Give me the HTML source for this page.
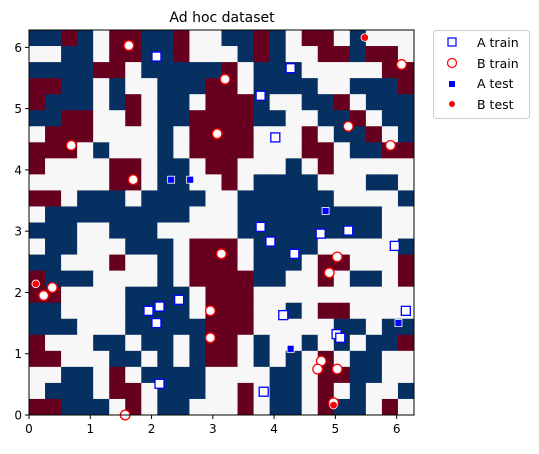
<!DOCTYPE html>
<html><head><meta charset="utf-8"><style>
body{margin:0;background:#fff;font-family:"Liberation Sans","DejaVu Sans",sans-serif;}
svg text{font-family:"DejaVu Sans","Liberation Sans",sans-serif;}
</style></head><body>
<svg id="chart" width="539" height="449" viewBox="0 0 539 449" xmlns="http://www.w3.org/2000/svg">
<text x="222" y="22" font-size="14" text-anchor="middle">Ad hoc dataset</text>
<g id="heat"></g>
<g id="pts"></g>
<rect x="29" y="30" width="385" height="385" fill="none" stroke="#000" stroke-width="1"/>
<g id="axes"></g>
<g>
<rect x="433.5" y="30.5" width="96" height="88" rx="3" fill="#fff" stroke="#ccc"/>
<g><rect x="448" y="38" width="8" height="8" fill="#fff" stroke="#0000ff" stroke-width="1.2"/><text x="477" y="47" font-size="12.5">A train</text></g>
<g><circle cx="452" cy="63" r="4.5" fill="#fff" stroke="#ff0000" stroke-width="1.2"/><text x="477" y="68" font-size="12.5">B train</text></g>
<g><rect x="449" y="81" width="6" height="6" fill="#0000ff"/><text x="477" y="88" font-size="12.5">A test</text></g>
<g><circle cx="452" cy="104" r="3" fill="#ff0000"/><text x="477" y="109" font-size="12.5">B test</text></g>
</g>
</svg>
<script>
const gridRows = [
"BBRB.RRBBR..BBRB.RR.B...",
"..BB.RRBBR...BRB..RRBRR.",
"BBBBRR.BBBBBR.BBB.....RR",
"RRBB.B..BBBRR.BBBB..BBBR",
"RBBB.BR.BB.RRRB..BBR.BBB",
"BBRR..R.BBRRRRBB..BBR.BB",
".RRR....B.RRRR...R.BBR.B",
"RRR.B...B.RRRR...RR.BBRR",
"R....RR.BB.RR...B.R.....",
".....RR.BB..R.BBBB...BB.",
"RR.BBB.BBBB..BBBBBB....B",
".BBBBBBBBB...BBBBBBBBB..",
"BBB..BBB.....BBBBBBBBB..",
".BB...BBB.RRR.BBBB.....B",
"BB...R..B.RRR.BBB.RR...R",
"RBBB....B.RRRRBB..R.BB.R",
"RR....BBBB.RRR..........",
"BB....BBBB.RRR..B.RR....",
"BBB...BBBBBRRR.....BB.BB",
"R...BB.BB.BRR.B..B.B.BBR",
"RR...BB.B.BRR.B.B.R.BB..",
"..BB.R.BBBB....BB.RRBB..",
".BBB.RR.BBB..R.BB.R.B..B",
"RRBBB.R.BB...R.BB.RBB.R."
];
const aTrainX=[2.08,4.27,3.78,4.02,3.78,3.94,4.33,4.76,5.21,5.97,6.15,4.15,5.02,5.08,1.95,2.13,2.45,2.08,2.13,3.83];
const aTrainY=[5.85,5.66,5.21,4.53,3.07,2.83,2.63,2.96,3.01,2.76,1.70,1.63,1.32,1.26,1.70,1.77,1.88,1.50,0.51,0.38];
const aTestX=[2.32,2.63,4.84,4.27,6.03];
const aTestY=[3.84,3.84,3.33,1.08,1.50];
const bTrainX=[1.63,6.08,3.20,3.07,5.21,5.90,0.69,1.70,3.14,5.03,4.90,0.38,0.24,2.96,2.96,4.77,4.71,5.03,4.97,1.57];
const bTrainY=[6.03,5.72,5.48,4.59,4.71,4.40,4.40,3.84,2.63,2.58,2.32,2.08,1.95,1.70,1.26,0.88,0.75,0.75,0.20,0.00];
const bTestX=[5.48,0.11,4.97];
const bTestY=[6.16,2.14,0.16];
const xTicks=[0,1,2,3,4,5,6];
const yTicks=[0,1,2,3,4,5,6];

const NS="http://www.w3.org/2000/svg";
const L=29,T=30,W=385,H=385,MAX=2*Math.PI;
const sx=v=>L+v/MAX*W;
const sy=v=>T+H-v/MAX*H;
const colors={R:"#67001f",B:"#053061",".":"#f7f7f7"};
function mk(tag,attrs,parent){const e=document.createElementNS(NS,tag);for(const k in attrs)e.setAttribute(k,attrs[k]);parent.appendChild(e);return e;}
const heat=document.getElementById("heat");
const n=gridRows.length;
for(let r=0;r<n;r++){for(let c=0;c<gridRows[r].length;c++){
  const v0=(c/n)*MAX,v1=((c+1)/n)*MAX,w0=((n-r-1)/n)*MAX,w1=((n-r)/n)*MAX;
  const e=mk("rect",{x:sx(v0),y:sy(w1),width:sx(v1)-sx(v0)+0.4,height:sy(w0)-sy(w1)+0.4,fill:colors[gridRows[r][c]]},heat);
  
  
}}
const pts=document.getElementById("pts");
aTrainX.forEach((x,i)=>{const e=mk("rect",{x:sx(x)-4.5,y:sy(aTrainY[i])-4.5,width:9,height:9,fill:"#fff",stroke:"#0000ff","stroke-width":1.3},pts);
  
  });
bTrainX.forEach((x,i)=>{const e=mk("circle",{cx:sx(x),cy:sy(bTrainY[i]),r:4.8,fill:"#fff",stroke:"#ff0000","stroke-width":1.3},pts);
  
  });
aTestX.forEach((x,i)=>{const e=mk("rect",{x:sx(x)-3.5,y:sy(aTestY[i])-3.5,width:7,height:7,fill:"#0000ff",stroke:"#fff","stroke-width":0.8},pts);
  
  });
bTestX.forEach((x,i)=>{const e=mk("circle",{cx:sx(x),cy:sy(bTestY[i]),r:3.8,fill:"#ff0000",stroke:"#fff","stroke-width":0.8},pts);
  
  });
const axes=document.getElementById("axes");
xTicks.forEach(t=>{const l=mk("line",{x1:sx(t),x2:sx(t),y1:T+H,y2:T+H+4,stroke:"#000"},axes);
  
  
  const tx=mk("text",{x:sx(t),y:T+H+18,"font-size":12,"text-anchor":"middle"},axes);tx.textContent=t;
  
  });
yTicks.forEach(t=>{const l=mk("line",{x1:L-4,x2:L,y1:sy(t),y2:sy(t),stroke:"#000"},axes);
  
  
  const tx=mk("text",{x:L-7,y:sy(t)+4.5,"font-size":12,"text-anchor":"end"},axes);tx.textContent=t;
  
  });
</script>
</body></html>
